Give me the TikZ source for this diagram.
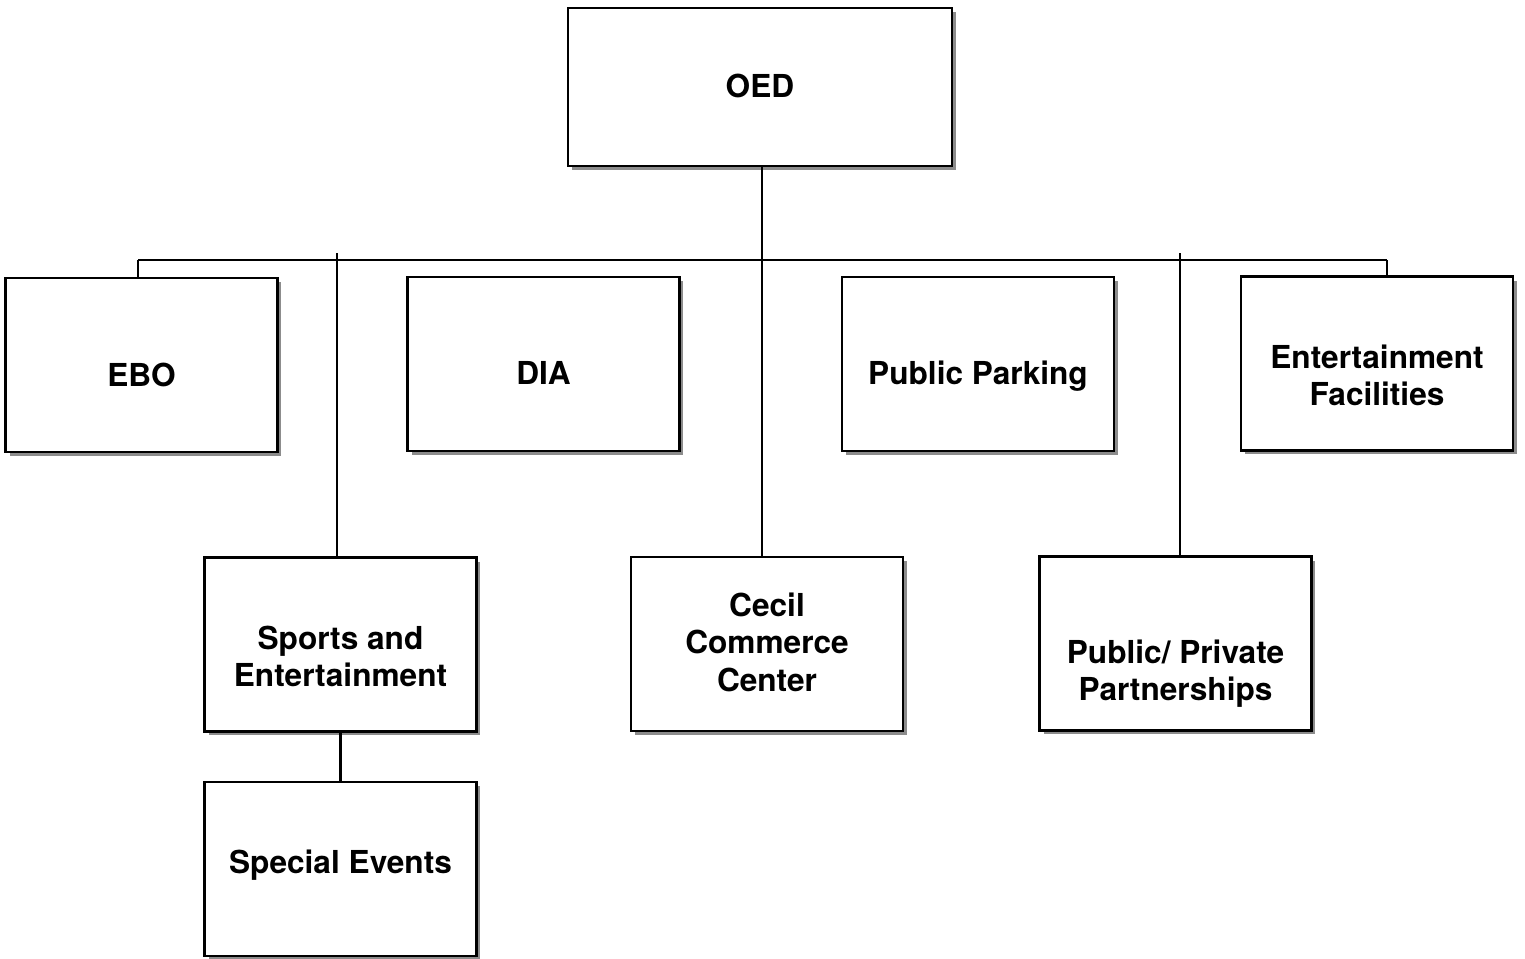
\documentclass[tikz,border=0pt]{standalone}
\usepackage{fontspec}
\setmainfont{TeX Gyre Heros}
\usepackage{tikz}
\usetikzlibrary{shadows}
\tikzstyle{unit} = [draw, line width=1.5pt, fill=white, align=center,
    minimum width=5.44cm, minimum height=3.48cm, inner sep=0pt,
    font=\fontsize{18}{21.5}\selectfont\bfseries,
    drop shadow={shadow xshift=0.08cm, shadow yshift=-0.08cm, fill=black!45, opacity=1}]
\tikzset{link/.style={line width=1.4pt}}
% text set with its first baseline #1 above the box centre
\newcommand{\boxtext}[2]{\raisebox{#1}[0pt][0pt]{\begin{tabular}[t]{@{}c@{}}#2\end{tabular}}}

\begin{document}
\begin{tikzpicture}[x=0.02cm, y=-0.02cm]
    \useasboundingbox (0,0) rectangle (1525,958);
    %boxes
    \node[unit, minimum width=7.68cm, minimum height=3.16cm] (oed) at (760,87) {\boxtext{-0.2cm}{OED}};
    \node[unit] (ebo) at (141.5,365) {\boxtext{-0.42cm}{EBO}};
    \node[unit] (dia) at (543.5,364) {\boxtext{-0.4cm}{DIA}};
    \node[unit] (parking) at (978,364) {\boxtext{-0.4cm}{Public Parking}};
    \node[unit] (facilities) at (1377,363.5) {\boxtext{-0.09cm}{Entertainment\\Facilities}};
    \node[unit] (sports) at (340.5,644.5) {\boxtext{-0.09cm}{Sports and\\Entertainment}};
    \node[unit] (cecil) at (767,644) {\boxtext{0.56cm}{Cecil\\Commerce\\Center}};
    \node[unit] (ppp) at (1175.5,643.5) {\boxtext{-0.39cm}{Public/ Private\\Partnerships}};
    \node[unit] (events) at (340.5,869) {\boxtext{-0.08cm}{Special Events}};
    %bus
    \coordinate (busL) at (138,260);
    \coordinate (busR) at (1387,260);
    \coordinate (sptop) at (337,253);
    \coordinate (pptop) at (1180,253);
    \coordinate (oedx) at (762,0);
    %lines
    \draw[link] (busL) -- (busR);
    \draw[link] (busL) -- (busL |- ebo.north);
    \draw[link] (busR) -- (busR |- facilities.north);
    \draw[link] (oedx |- oed.south) -- (oedx |- cecil.north);
    \draw[link] (sptop) -- (sptop |- sports.north);
    \draw[link] (pptop) -- (pptop |- ppp.north);
    \draw[link] (sports.south) -- (events.north);
\end{tikzpicture}
\end{document}
